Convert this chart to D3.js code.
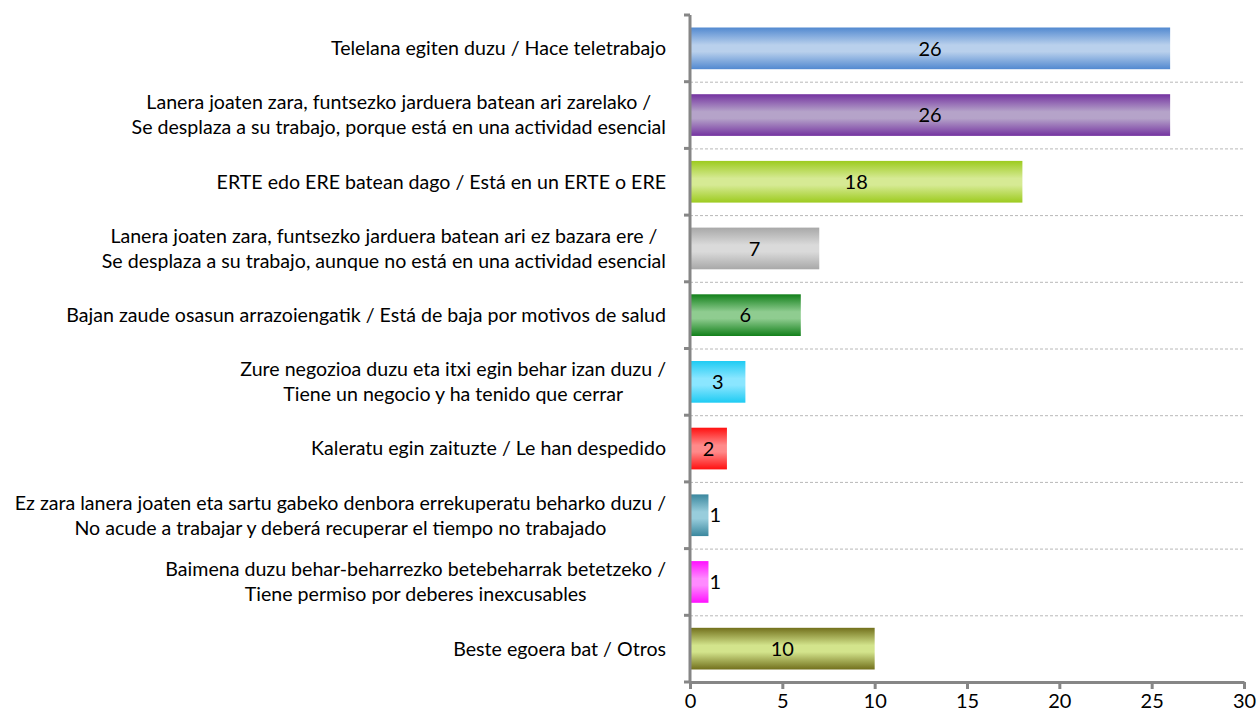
<!DOCTYPE html>
<html>
<head>
<meta charset="utf-8">
<script src="https://cdn.jsdelivr.net/npm/d3@7/dist/d3.min.js"></script>
<style>
  html, body { margin: 0; padding: 0; background: #fff; }
  svg { display: block; }
  text { font-family: Lato, "Open Sans", sans-serif; fill: #000; }
</style>
</head>
<body>
<svg id="chart" width="1257" height="713"></svg>
<script>
// Situation categories, each label split into its lines
const categories = [
  ["Telelana egiten duzu / Hace teletrabajo"],
  ["Lanera joaten zara, funtsezko jarduera batean ari zarelako /", "Se desplaza a su trabajo, porque está en una actividad esencial"],
  ["ERTE edo ERE batean dago / Está en un ERTE o ERE"],
  ["Lanera joaten zara, funtsezko jarduera batean ari ez bazara ere /", "Se desplaza a su trabajo, aunque no está en una actividad esencial"],
  ["Bajan zaude osasun arrazoiengatik / Está de baja por motivos de salud"],
  ["Zure negozioa duzu eta itxi egin behar izan duzu /", "Tiene un negocio y ha tenido que cerrar"],
  ["Kaleratu egin zaituzte / Le han despedido"],
  ["Ez zara lanera joaten eta sartu gabeko denbora errekuperatu beharko duzu /", "No acude a trabajar y deberá recuperar el tiempo no trabajado"],
  ["Baimena duzu behar-beharrezko betebeharrak betetzeko /", "Tiene permiso por deberes inexcusables"],
  ["Beste egoera bat / Otros"]
];
const values = [26, 26, 18, 7, 6, 3, 2, 1, 1, 10];
// Edge (dark) and centre (light) tones of each bar's gradient
const edgeColors  = ["#5289d0", "#7433a0", "#9dcb1f", "#a8a8a8", "#12801a", "#1ecbf3", "#ff1010", "#3a879e", "#ff10ff", "#72701c"];
const lightColors = ["#b9d0ec", "#b5a3c9", "#d6ea94", "#dadada", "#8fcc90", "#8ae6ff", "#ff8a8a", "#98cddc", "#ff8aff", "#d3e48c"];
const xTicks = [0, 5, 10, 15, 20, 25, 30];

const svg = d3.select("#chart");
const plotLeft = 690, plotRight = 1244, plotTop = 15, plotBottom = 682;

const x = d3.scaleLinear().domain([0, 30]).range([plotLeft, plotRight]);
const y = d3.scaleBand()
  .domain(d3.range(categories.length))
  .range([plotTop, plotBottom])
  .paddingInner(0.375)
  .paddingOuter(0.1875);
const step = y.step();
const boundary = i => plotTop + i * step;

// Vertical glossy gradients
const defs = svg.append("defs");
values.forEach((v, i) => {
  const g = defs.append("linearGradient")
    .attr("id", "grad" + i)
    .attr("x1", 0).attr("y1", 0).attr("x2", 0).attr("y2", 1);
  g.append("stop").attr("offset", "0%").attr("stop-color", edgeColors[i]);
  g.append("stop").attr("offset", "42%").attr("stop-color", lightColors[i]);
  g.append("stop").attr("offset", "58%").attr("stop-color", lightColors[i]);
  g.append("stop").attr("offset", "100%").attr("stop-color", edgeColors[i]);
});

// Dashed separators between categories
svg.append("g")
  .selectAll("line")
  .data(d3.range(1, categories.length))
  .join("line")
  .attr("x1", plotLeft).attr("x2", plotRight)
  .attr("y1", d => boundary(d) + 0.5).attr("y2", d => boundary(d) + 0.5)
  .attr("stroke", "#b8b8b8")
  .attr("stroke-width", 1)
  .attr("stroke-dasharray", "3,2");

// Bars
svg.append("g")
  .selectAll("rect")
  .data(values)
  .join("rect")
  .attr("x", x(0))
  .attr("y", (d, i) => y(i))
  .attr("width", d => x(d) - x(0))
  .attr("height", y.bandwidth())
  .attr("fill", (d, i) => `url(#grad${i})`);

// Value labels
svg.append("g")
  .selectAll("text")
  .data(values)
  .join("text")
  .attr("x", d => (x(d) - x(0) < 24) ? x(d) + 1 : (x(0) + x(d)) / 2)
  .attr("y", (d, i) => y(i) + y.bandwidth() / 2)
  .attr("dy", "0.36em")
  .attr("text-anchor", d => (x(d) - x(0) < 24) ? "start" : "middle")
  .style("font-size", "20px")
  .text(d => d);

// Category labels: block right-aligned, lines centred on each other
const labelRight = 666, lineGap = 25;
const labelG = svg.append("g").style("font-size", "19.6px");
categories.forEach((lines, i) => {
  const cy = y(i) + y.bandwidth() / 2;
  const t = labelG.append("text").attr("text-anchor", "middle");
  const spans = lines.map((s, k) => t.append("tspan")
    .attr("y", cy + (k - (lines.length - 1) / 2) * lineGap)
    .attr("dy", "0.35em")
    .text(s));
  const widths = spans.map(sp => sp.node().getComputedTextLength());
  const w = d3.max(widths);
  spans.forEach(sp => sp.attr("x", labelRight - w / 2));
});

// Y axis line with ticks at category boundaries
const axisColor = "#868686";
svg.append("line")
  .attr("x1", plotLeft).attr("x2", plotLeft)
  .attr("y1", plotTop).attr("y2", plotBottom + 1)
  .attr("stroke", axisColor).attr("stroke-width", 3);
svg.append("g")
  .selectAll("line")
  .data(d3.range(0, categories.length + 1))
  .join("line")
  .attr("x1", plotLeft - 6).attr("x2", plotLeft)
  .attr("y1", d => boundary(d)).attr("y2", d => boundary(d))
  .attr("stroke", axisColor).attr("stroke-width", 3);

// X axis
const xAxis = svg.append("g")
  .attr("transform", `translate(0,${plotBottom})`)
  .call(d3.axisBottom(x).tickValues(xTicks).tickSize(7).tickPadding(5).tickSizeOuter(0));
xAxis.select(".domain").attr("stroke", axisColor).attr("stroke-width", 3);
xAxis.selectAll(".tick line").attr("stroke", axisColor).attr("stroke-width", 3);
xAxis.selectAll(".tick text")
  .style("font-family", "Lato, 'Open Sans', sans-serif")
  .style("font-size", "20px")
  .attr("fill", "#000");
</script>
</body>
</html>
